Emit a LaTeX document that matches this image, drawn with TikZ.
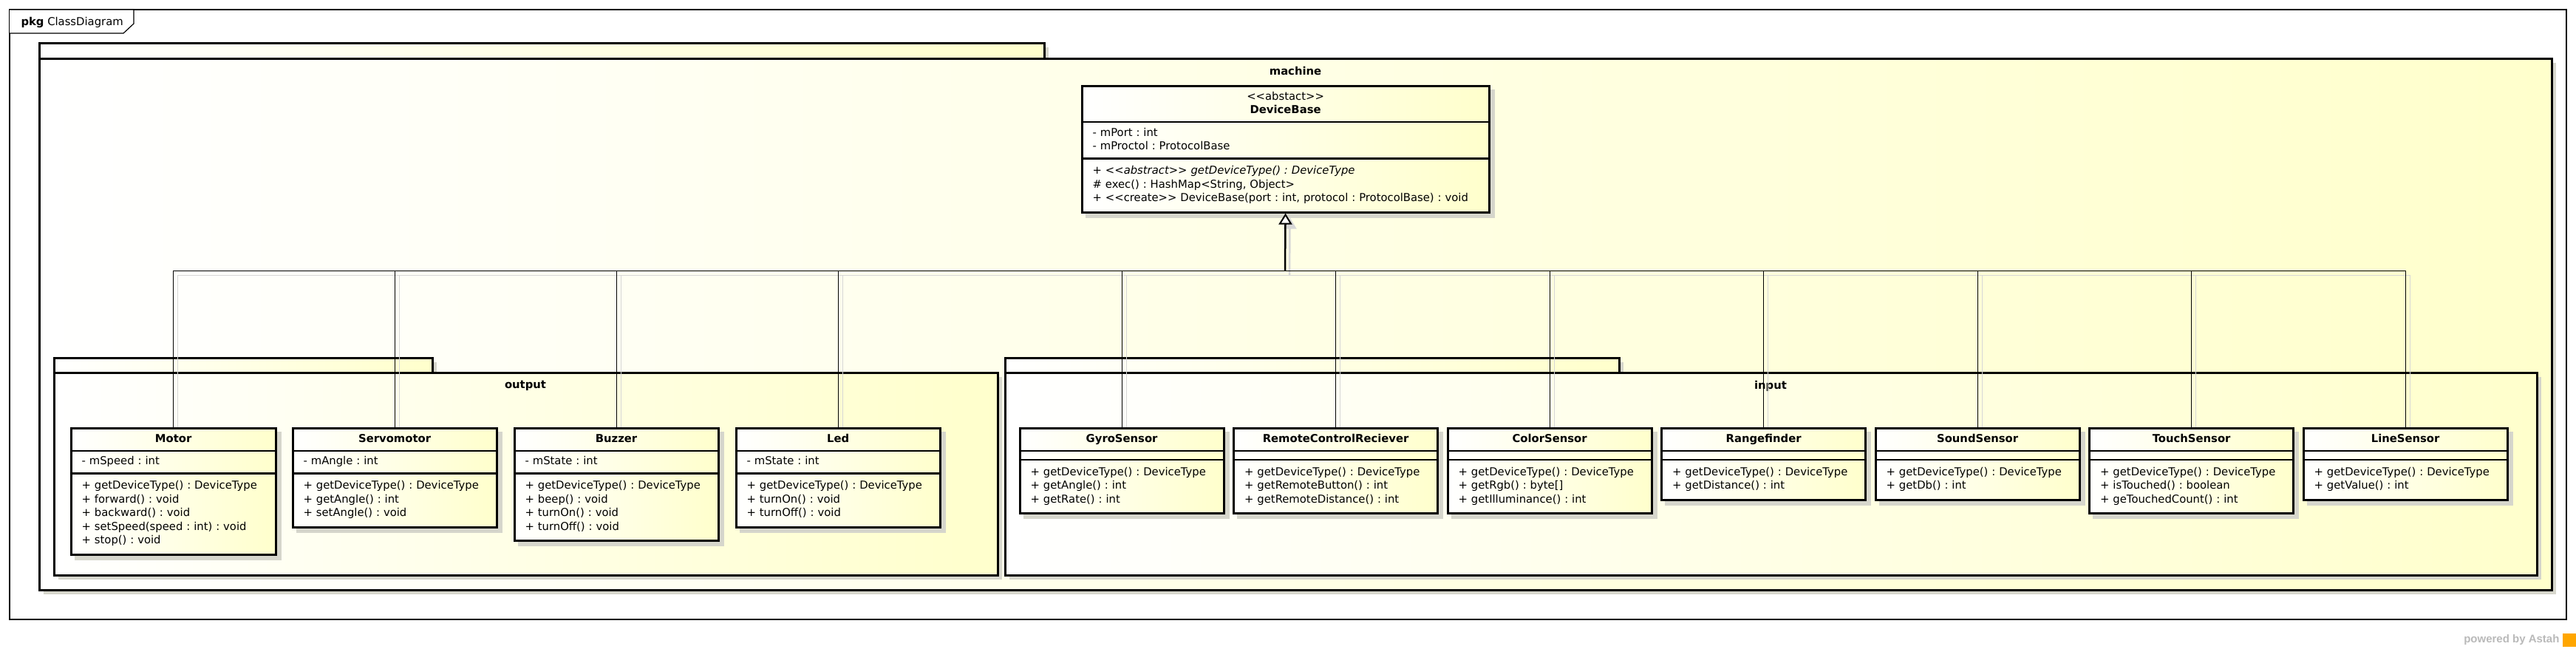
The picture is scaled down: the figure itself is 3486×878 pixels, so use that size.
\documentclass[tikz,border=0pt]{standalone}
\usepackage{fontspec}
\usepackage{tikz}
\usetikzlibrary{arrows.meta,fit,calc}
\newfontfamily\umlfont{DejaVu Sans}
\newfontfamily\astahfont{Liberation Sans}
\definecolor{clsyellow}{RGB}{255,255,204}
\definecolor{shadowcol}{RGB}{214,214,204}
\definecolor{wiregray}{RGB}{214,214,214}
\pgfdeclarelayer{pkg}
\pgfdeclarelayer{shade}
\pgfsetlayers{pkg,shade,main}

% one class box: name, north west corner, width, title, attributes, operations
\newcommand{\umlclass}[6]{%
  \pgfmathsetmacro\clstw{#3-28}
  \node[clstitle, minimum width=#3pt, anchor=north west] (#1-t) at #2 {\strut#4\strut};
  \if\relax\detokenize{#5}\relax
    \node[clsempty, minimum width=#3pt, anchor=north west] (#1-a) at (#1-t.south west) {};
  \else
    \node[clsattr, text width=\clstw pt, anchor=north west] (#1-a) at (#1-t.south west) {\strut#5\strut};
  \fi
  \node[clsops, text width=\clstw pt, anchor=north west] (#1-o) at (#1-a.south west) {\strut#6\strut};
  \node[clsframe, fit=(#1-t)(#1-o)] (#1) {};
  \begin{pgfonlayer}{shade}
    \fill[shadowcol] ($(#1.north west)+(6,6)$) rectangle ($(#1.south east)+(6,6)$);
  \end{pgfonlayer}
}

\begin{document}
\frenchspacing
\begin{tikzpicture}[x=1pt, y=-1pt,
  umltext/.style={font=\umlfont\fontsize{14.8}{18.5}\selectfont},
  compart/.style={umltext, draw=black, line width=1.2pt, left color=white, right color=clsyellow, inner xsep=14pt},
  clstitle/.style={compart, align=center, inner ysep=5.5pt},
  clsattr/.style={compart, align=left, inner ysep=5.5pt},
  clsops/.style={compart, align=left, inner ysep=8pt},
  clsempty/.style={compart, minimum height=11pt, inner sep=0pt},
  clsframe/.style={draw=black, line width=3pt, inner sep=0pt},
  pkgbox/.style={draw=black, line width=3pt, left color=white, right color=clsyellow},
  pkgname/.style={umltext, font=\umlfont\bfseries\fontsize{14.8}{18.5}\selectfont},
  wire/.style={draw=black, line width=1pt},
  wireshadow/.style={draw=wiregray, line width=1pt}]
\useasboundingbox (0,0) rectangle (3486,878);

\begin{pgfonlayer}{pkg}
% diagram frame
\draw[line width=1.5pt] (13,13) rectangle (3473,838);
\draw[line width=1.2pt, fill=white] (13,13) -- (181,13) -- (181,32) -- (167,45) -- (13,45);
\node[umltext, anchor=west] (frame) at (25,30) {\textbf{pkg} ClassDiagram};
% machine
\fill[shadowcol] (59,64) rectangle (1419,85);
\fill[shadowcol] (59,85) rectangle (3459,804);
\draw[pkgbox] (53,58) rectangle (1413,79);
\draw[pkgbox] (53,79) rectangle (3453,798);
\node[pkgname] (machine) at (1753,96) {machine};
% output
\fill[shadowcol] (79,490) rectangle (591,510);
\fill[shadowcol] (79,510) rectangle (1356,784);
\draw[pkgbox] (73,484) rectangle (585,504);
\draw[pkgbox] (73,504) rectangle (1350,778);
\node[pkgname] (output) at (711,522) {output};
% input
\fill[shadowcol] (1366,490) rectangle (2197,510);
\fill[shadowcol] (1366,510) rectangle (3439,784);
\draw[pkgbox] (1360,484) rectangle (2191,504);
\draw[pkgbox] (1360,504) rectangle (3433,778);
\node[pkgname] (input) at (2396,522) {input};
\end{pgfonlayer}

\umlclass{base}{(1464,116)}{550}{<<abstact>>\\\textbf{DeviceBase}}{- mPort : int\\- mProctol : ProtocolBase}{\textit{+ <<abstract>> getDeviceType() : DeviceType}\\\# exec() : HashMap<String, Object>\\+ <<create>> DeviceBase(port : int, protocol : ProtocolBase) : void}

\umlclass{motor}{(96,579)}{276}{\textbf{Motor}}{- mSpeed : int}{+ getDeviceType() : DeviceType\\+ forward() : void\\+ backward() : void\\+ setSpeed(speed : int) : void\\+ stop() : void}
\umlclass{servo}{(396,579)}{275}{\textbf{Servomotor}}{- mAngle : int}{+ getDeviceType() : DeviceType\\+ getAngle() : int\\+ setAngle() : void}
\umlclass{buzzer}{(696,579)}{275}{\textbf{Buzzer}}{- mState : int}{+ getDeviceType() : DeviceType\\+ beep() : void\\+ turnOn() : void\\+ turnOff() : void}
\umlclass{led}{(996,579)}{275}{\textbf{Led}}{- mState : int}{+ getDeviceType() : DeviceType\\+ turnOn() : void\\+ turnOff() : void}

\umlclass{gyro}{(1380,579)}{275}{\textbf{GyroSensor}}{}{+ getDeviceType() : DeviceType\\+ getAngle() : int\\+ getRate() : int}
\umlclass{remote}{(1669.5,579)}{275}{\textbf{RemoteControlReciever}}{}{+ getDeviceType() : DeviceType\\+ getRemoteButton() : int\\+ getRemoteDistance() : int}
\umlclass{color}{(1959,579)}{275}{\textbf{ColorSensor}}{}{+ getDeviceType() : DeviceType\\+ getRgb() : byte[]\\+ getIlluminance() : int}
\umlclass{range}{(2248.5,579)}{275}{\textbf{Rangefinder}}{}{+ getDeviceType() : DeviceType\\+ getDistance() : int}
\umlclass{sound}{(2538,579)}{275}{\textbf{SoundSensor}}{}{+ getDeviceType() : DeviceType\\+ getDb() : int}
\umlclass{touch}{(2827.5,579)}{275}{\textbf{TouchSensor}}{}{+ getDeviceType() : DeviceType\\+ isTouched() : boolean\\+ geTouchedCount() : int}
\umlclass{line}{(3117,579)}{275}{\textbf{LineSensor}}{}{+ getDeviceType() : DeviceType\\+ getValue() : int}

% generalization
\coordinate (bus) at (1739,366);
\begin{pgfonlayer}{shade}
\draw[wireshadow] ($(bus -| motor.north)+(6,6)$) -- ($(bus -| line.north)+(6,6)$);
\foreach \c in {motor,servo,buzzer,led,gyro,remote,color,range,sound,touch,line}
  \draw[wireshadow] ($(bus -| \c.north)+(6,6)$) -- ($(\c.north)+(6,6)$);
\draw[wireshadow, line width=2.5pt, -{Triangle[length=15pt,width=18pt,fill=wiregray,line width=2pt]}] ($(bus)+(6,6)$) -- ($(base.south)+(6,6)$);
\end{pgfonlayer}
\draw[wire] (bus -| motor.north) -- (bus -| line.north);
\foreach \c in {motor,servo,buzzer,led,gyro,remote,color,range,sound,touch,line}
  \draw[wire] (bus -| \c.north) -- (\c.north);
\draw[wire, line width=2.5pt, -{Triangle[length=15pt,width=18pt,fill=white,line width=2pt]}] (bus) -- (base.south);

\node[font=\astahfont\bfseries\fontsize{15}{17}\selectfont, text=gray!55, anchor=east] (astah) at (3467,866) {powered by Astah};
\fill[orange!70!yellow] (3468,857) rectangle (3486,875);
\end{tikzpicture}
\end{document}
